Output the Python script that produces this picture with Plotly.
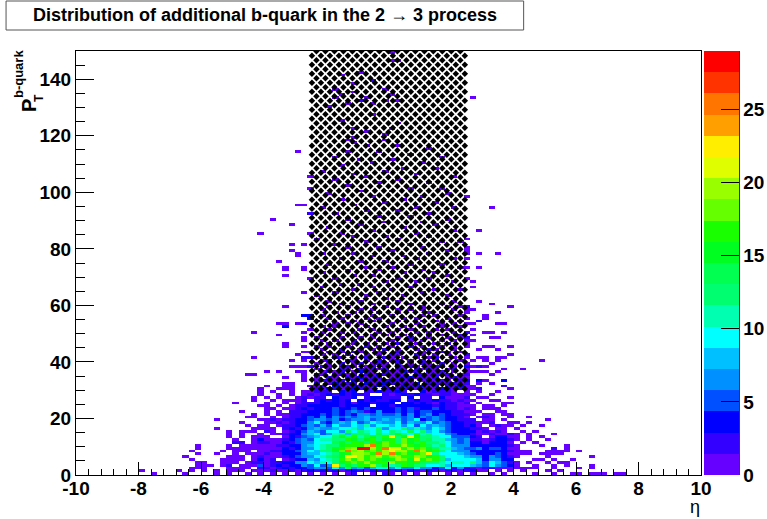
import numpy as np
import plotly.graph_objects as go

ETA_EDGE_MIN, ETA_BIN = -10.0, 0.2
N_ETA, N_PT = 100, 150

# counts in base 36 ('.' = empty); bins c10.. of eta, one string per pT bin from 0 upward
LOW_ROWS = [
"..1....1.. ..1.1..1.1 .1.1.1.1.1 .1.12..1.2 1.1.1.1..1 .1.1..1.1. ...1..1..1 1.111.11..",
"1.....1.1. 1.1.111.11 1211212324 2412321322 2313213212 212311.1.1 .1...1.1.. ..........",
"........11 1...1111.2 2123243576 5a7c68589a 7967a6745a 4632122111 1111..1... 1.1.......",
".........1 11.12.1115 1232436595 6mcfdghkdf bdgfcc9ab8 a99865a753 1..1..1.1. ..1.......",
".........1 1..111.122 1224366a8b 9dfgihkhgg jghfhecdb9 bbac859852 1.1..1.11. ..........",
"........1. ...1111.13 12.1234879 bchkgjhihf hjiflhigc8 aa99847743 ...11.1..1 ..........",
".......1.. ....111.12 11123567ab cefmmjhijh ikhgjifhca 9a86636542 1....1.... ..1.......",
".........1 ..1..1.111 2113346889 bdfgjjihpj phifhimd9a 9865333531 111.1111.. ..........",
"........1. ...1.111.1 1223357a8c dfipikhihj lkjgpjfgda 7763434432 111..1111. 1.........",
".........1 ....111111 111324669b cfgikstjhp llhjgifebb 8655645531 1.....2.1. ..........",
".........1 ....1.1111 11223468ab dcfgghjphi ghjgfhebc9 6673333332 1...1...1. ..........",
".......... .....22.12 21132566a9 aefcghdhfi hdifehdcb9 7564313431 .1.1...... ..........",
".......... .....1..13 111245659b bcdhfcfhdf gdifhcebb8 6562212332 1.1..1.... ..........",
".......... ....1.1.11 1..1325789 9cfdgbefch mdfmfcdb9a 55532.1341 1.1.1..... ..........",
".......... ....1.1..1 .1123368a5 7bc8edc9eb dfc9hbcaa6 5432112112 1.1...1... ..........",
".......... ....1.111. 21.1235875 9a7cacb9da cb9eac8a75 443312121. .1.1...... ..........",
".......... ..1.....11 11.2324686 68a9b8a9c7 a9c8b86a85 433221.11. 1......... ..........",
".......... .......1.1 1.12235758 5967a8b6a9 8a6a596865 34231.1211 .1..1..... ..........",
".......... ......1... 1121234695 4786a57987 7a5867a575 3322112..1 1.1....... ..........",
".......... ..1......1 1212234576 5745768568 6856a45654 3222.11.1. .....1.... ..........",
".......... .......11. .1.1223547 4657568676 6757465754 321.121..1 ..1....... ..........",
".......... ........1. 1.11223345 4545467565 5646457453 2221.11.11 .......... ..........",
".......... ......1... 1.1.222344 3545652464 4535455343 22111..11. .......... ..........",
".......... .......... 11.1123243 4534535443 3545243532 2121.111.. .......... ..........",
".......... .........1 1.1.122334 3424343.34 2434343242 2111.11.1. .......... ..........",
".......... .....1.... 1..1.12223 3323143233 3.33232132 212.1...11 .......... ..........",
".......... ........1. .1.1112.23 2323.32322 33.2322322 1211..11.. .......... ..........",
".......... ........1. 1.1..12122 .3223.2332 22.3.22.31 112.11...1 .......... ..........",
".......... .........1 ..1.1.1212 3232322..2 1232322122 1111..1... .......... ..........",
".......... .........1 .1..1.1122 2.323.2232 232..31222 1.1.1..1.. .......... ..........",
]
LOW_FIRST_BIN = 10

# counts under the hatched band: eta bins c38..c62, pT bins 30 upward
BAND_ROWS = [
"21321 23221 .2322 31221 32121",
"12.32 13212 32.13 22312 .2131",
"2.131 22.31 23212 13.22 12211",
"12212 .3122 12321 2.131 21.21",
"1.21. 21312 2.122 31212 .1211",
"21.12 12.21 32121 .2212 12.12",
".1212 .1321 .2113 12.21 2.1.1",
"1.1.2 1.212 12.21 .2121 .12.1",
".21.1 21.12 .1.21 21.12 1.1.2",
"1.1.2 .12.1 21.2. 1.21. 2.1.1",
".12.. 21.1. 2.12. 1.2.1 .1.1.",
"1..21 .1.2. .21.1 .1.12 ..1.1",
".1.1. 2..1. 1.21. .21.1 .1..1",
"..1.1 .21.. 1..2. 1.1.. 21.1.",
".1..2 ..1.1 .2.1. .1.21 ..1..",
"1.1.. 1..2. 1.1.. 2.1.. 1.1.1",
"..1.. .1.1. .1.2. .1..1 .2..1",
".1.1. .2... 1.1.. 1.1.. 1.1..",
"1...1 ..1.1 ...1. 2..1. .1.1.",
"..1.. 1...1 .1..1 ...1. 1..2.",
".1..1 .1... 1.1.. .1.1. ..1.1",
"..1.. ..1.1 ...1. 1...1 .1...",
".1.1. ...1. .1..1 ..1.. 1..1.",
"...1. 1.1.. ..1.. .1... 1.1.1",
"1.... .1..1 ...1. ..1.1 ...1.",
"..1.1 ...1. 1...1 .1... .1..1",
".1... 1...1 ..1.. ..1.1 ...1.",
"...1. .1... 1..1. ...1. 1...1",
".1... ..1.1 ...1. 1.1.. ..1..",
"..1.. 1.... .1... ..1.. .1.1.",
]
BAND_FIRST_ETA_BIN, BAND_FIRST_PT_BIN = 38, 30

# single entries outside the band: pT bin -> eta bins (a repeat adds one count)
OUTER_CELLS = {
30:[29,32,33,34,63,64,64,69], 31:[30,33,34,37,63,68,68], 32:[33,34,62,64,66],
33:[36,62,62,64,64,64,65,68,68,68], 34:[33,36], 35:[27,28,36,66],
36:[30,32,35,36,63,64,65,67], 37:[68,71], 38:[34,35,36,37,37,62,63,64,64,65],
39:[66], 40:[34,36,63,65,67,74], 41:[28,36,36,37,37,64,65,67,68], 42:[35,62,69],
43:[36,37], 44:[64,67], 45:[33,36,65,66,69], 46:[33], 47:[36,62,63],
48:[36,62,62,66,67], 49:[32,63], 50:[28,36,62,65,66,68], 51:[37,63], 52:[33,33,33],
53:[32,33,35,36,36,63,67,68], 54:[64,64], 55:[37,37,37,65], 56:[36,36,36,37,37,37,65],
57:[67], 58:[62,63], 59:[33,62,62,69], 60:[66], 61:[64], 64:[36], 66:[63], 68:[63],
69:[37,62], 70:[33], 72:[33,36], 73:[33,36,62,64], 75:[32], 76:[62], 77:[35],
78:[35,62,64,67], 79:[34,62], 80:[62], 81:[34,36], 83:[62], 85:[29,37], 86:[64],
88:[34], 90:[31], 92:[37,37], 94:[66], 95:[35,36], 98:[62], 101:[37], 105:[37],
114:[35], 133:[63],
}

# single entries inside the band above pT 60
INNER_CELLS = {
60:[42,47,53,58], 61:[40,45,51,60], 62:[43,49,56], 63:[38,46,52,59], 64:[41,48,55],
65:[44,50,57,61], 66:[39,47,53], 67:[42,45,58], 68:[49,54,60], 69:[41,51,56],
70:[44,47,59], 71:[39,52,57], 72:[43,48,55], 73:[46,50,61], 74:[40,53,58], 75:[45,49],
76:[42,54,60], 77:[47,52], 78:[39,44,56], 79:[50,59], 80:[43,48,55], 81:[41,53],
82:[46,58,61], 83:[38,51], 84:[44,49,56], 85:[42,54], 86:[47,60], 87:[40,52], 88:[45,57],
89:[49,55], 90:[43,59], 91:[48,53], 92:[41,56], 93:[46,51], 94:[39,54,60], 95:[44],
96:[49,57], 97:[42,52], 98:[47,55], 99:[40,59], 100:[45,50], 101:[53,58], 102:[43],
103:[48,56], 104:[41,51], 105:[46,60], 106:[44,54], 107:[39,49], 108:[52,57], 109:[42],
110:[47,55], 111:[45,50], 112:[41,58], 113:[53], 114:[43,48], 115:[56], 116:[46,51],
117:[44], 118:[43,49], 119:[44], 120:[49], 121:[46], 122:[44,50], 124:[51], 125:[42],
127:[47], 130:[40], 131:[43,47], 132:[45,45,49,51], 133:[41,46], 134:[42,50], 135:[44],
136:[41,49], 138:[44], 139:[47,47], 141:[42], 142:[45], 146:[50,51], 149:[50],
}

X_TICKS = [-10, -8, -6, -4, -2, 0, 2, 4, 6, 8, 10]
X_TICK_TEXT = ["-10", "-8", "-6", "-4", "-2", "0", "2", "4", "6", "8", "10"]
Y_TICKS = [0, 20, 40, 60, 80, 100, 120, 140]
Z_TICKS = [0, 5, 10, 15, 20, 25]
Z_MAX = 29
BAND_COLORS = ["#6600ff", "#3300ff", "#0000ff", "#0050ff", "#0090ff", "#00c0ff", "#00ffff",
               "#00ffb0", "#00ff70", "#00ff50", "#00ff20", "#19ff00", "#66ff00", "#99ff00",
               "#dfff00", "#ffee00", "#ffa000", "#ff7500", "#ff3300", "#ff0000"]
TITLE = "Distribution of additional b-quark in the 2 \u2192 3 process"

counts = np.zeros((N_PT, N_ETA))
for r, row in enumerate(LOW_ROWS):
    for k, ch in enumerate(row.replace(" ", "")):
        if ch != ".":
            counts[r, LOW_FIRST_BIN + k] += int(ch, 36)
for r, row in enumerate(BAND_ROWS):
    for k, ch in enumerate(row.replace(" ", "")):
        if ch != ".":
            counts[BAND_FIRST_PT_BIN + r, BAND_FIRST_ETA_BIN + k] += int(ch, 36)
for table in (OUTER_CELLS, INNER_CELLS):
    for r, cols in table.items():
        for c in cols:
            counts[r, c] += 1
z = [[float(v) if v > 0 else None for v in row] for row in counts]

W, H = 767, 519
L, R, T, B = 76, 701.5, 51, 475
PW, PH = R - L, B - T
def fx(px): return (px - L) / PW
def fy(py): return (B - py) / PH

n = len(BAND_COLORS)
scale = []
for i, col in enumerate(BAND_COLORS):
    scale += [[i / n, col], [(i + 1) / n, col]]

FONT = "Liberation Sans"
tick_font = dict(family=FONT, size=19, color="black", weight=700)

fig = go.Figure()
fig.add_trace(go.Heatmap(
    z=z, x0=ETA_EDGE_MIN + ETA_BIN / 2, dx=ETA_BIN, y0=0.5, dy=1,
    zmin=0, zmax=Z_MAX, colorscale=scale, zsmooth=False, hoverongaps=False,
    colorbar=dict(
        thickness=35, thicknessmode="pixels", len=1, lenmode="fraction",
        x=fx(705), xanchor="left", y=0, yanchor="bottom", xpad=0, ypad=0,
        tickmode="array", tickvals=Z_TICKS, ticks="inside", ticklen=18, tickwidth=1,
        tickcolor="black", tickfont=tick_font, outlinewidth=0, ticklabelposition="outside",
    ),
))

# staggered lattice of black diamonds drawn over the band |eta| < 2.5, pT > 30
period_x = 9 / (PW / 20)
period_y = 9 / (PH / 150)
hx, hy = [], []
for j, yy in enumerate(np.arange(30.5, 150.01, period_y / 2)):
    off = 0 if j % 2 == 0 else period_x / 2
    for xx in np.arange(-2.45 + off, 2.5 + 1e-6, period_x):
        hx.append(float(xx)); hy.append(float(yy))
fig.add_trace(go.Scatter(
    x=hx, y=hy, mode="markers", hoverinfo="skip", showlegend=False,
    marker=dict(symbol="diamond", size=5, color="black", line=dict(width=0)),
))

fig.update_layout(
    width=W, height=H, autosize=False, showlegend=False,
    margin=dict(l=L, r=W - R, t=T, b=H - B, autoexpand=False),
    paper_bgcolor="white", plot_bgcolor="white",
    title=dict(text=TITLE, x=265 / W, xanchor="center", y=1 - 14.5 / H,
               yanchor="middle", font=dict(family=FONT, size=18, color="black", weight=700)),
    xaxis=dict(range=[-10, 10], tickmode="array", tickvals=X_TICKS, ticktext=X_TICK_TEXT,
               ticks="inside", ticklen=13, tickwidth=1, tickcolor="black", showgrid=False,
               zeroline=False, showline=True, linecolor="black", linewidth=1, mirror=True,
               tickfont=tick_font, automargin=False, ticklabelstandoff=-4,
               minor=dict(tickmode="linear", tick0=-10, dtick=0.4, ticks="inside", ticklen=6,
                          tickwidth=1, tickcolor="black", showgrid=False)),
    yaxis=dict(range=[0, 150], tickmode="array", tickvals=Y_TICKS,
               ticks="inside", ticklen=18, tickwidth=1, tickcolor="black", showgrid=False,
               zeroline=False, showline=True, linecolor="black", linewidth=1, mirror=True,
               tickfont=tick_font, automargin=False,
               minor=dict(tickmode="linear", tick0=0, dtick=5, ticks="inside", ticklen=9,
                          tickwidth=1, tickcolor="black", showgrid=False)),
    shapes=[
        dict(type="rect", xref="paper", yref="paper", x0=fx(6), x1=fx(524), y0=fy(30), y1=fy(1),
             line=dict(color="#555555", width=1), fillcolor="rgba(0,0,0,0)", layer="below"),
        dict(type="line", xref="paper", yref="paper", x0=fx(740), x1=fx(740), y0=0, y1=1,
             line=dict(color="#333333", width=1)),
    ],
    annotations=[
        dict(text="P", xref="paper", yref="paper", x=fx(29), y=fy(106), showarrow=False, textangle=-90,
             xanchor="center", yanchor="middle", font=dict(family=FONT, size=20, color="black", weight=700)),
        dict(text="T", xref="paper", yref="paper", x=fx(39), y=fy(98), showarrow=False, textangle=-90,
             xanchor="center", yanchor="middle", font=dict(family=FONT, size=12, color="black", weight=700)),
        dict(text="b-quark", xref="paper", yref="paper", x=fx(19), y=fy(74), showarrow=False, textangle=-90,
             xanchor="center", yanchor="middle", font=dict(family=FONT, size=13, color="black", weight=700)),
        dict(text="\u03b7", xref="paper", yref="paper", x=fx(695), y=fy(507), showarrow=False,
             xanchor="center", yanchor="middle", font=dict(family=FONT, size=18, color="black")),
    ],
)
fig.write_html("out.html", config={"displayModeBar": False},
               post_script="document.body.style.margin='0';document.body.style.overflow='hidden';")
